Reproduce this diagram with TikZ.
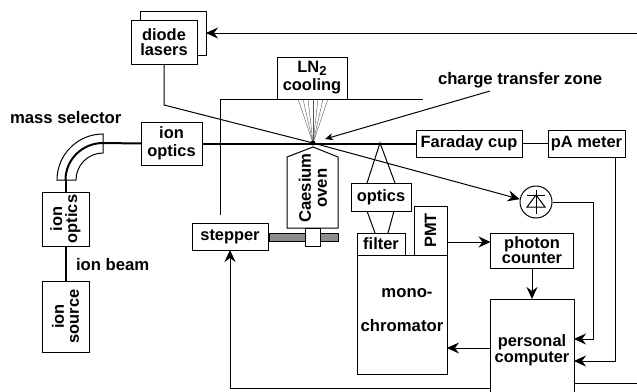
\documentclass[tikz,border=0pt]{standalone}
\usepackage{xcolor}
\usepackage{fontspec}
\setmainfont{Liberation Sans}
\usepackage{tikz}
\usetikzlibrary{arrows.meta}
\tikzset{
  box/.style={draw=black,fill=white,line width=1pt,inner sep=0pt,outer sep=0pt,align=center,font=\bfseries\fontsize{16.4}{15}\selectfont},
  lbl/.style={inner sep=0pt,outer sep=0pt,font=\bfseries\fontsize{16.7}{15}\selectfont},
  thin line/.style={line width=1pt},
  beam/.style={line width=2pt},
  feed/.style={line width=1pt,-{Stealth[length=12pt,width=11pt,inset=4pt]}},
}
\begin{document}
\begin{tikzpicture}[x=1pt,y=-1pt]
\path[use as bounding box] (0,0) rectangle (637,391);
\path[fill=white,draw=none] (0,0) rectangle (637,391);
% chamber walls
\draw[thin line] (220.5,215) -- (220.5,99) -- (423,99);
\coordinate (zone) at (313,143);
\foreach \xtop in {298,303,308,313,318,323,328} {
  \draw[line width=0.4pt,black!65] (zone) -- (\xtop,99);
}
% boxes
\node[box,minimum width=66pt,minimum height=44pt] (lasersback) at (173,33) {};
\node[box,minimum width=66pt,minimum height=44pt] (lasers) at (164,42) {diode\\lasers};
\node[box,minimum width=70pt,minimum height=42pt] (cooling) at (312,78) {LN\raisebox{-3pt}{\fontsize{13}{13}\selectfont 2}\\[3pt]cooling};
\node[box,minimum width=61pt,minimum height=43pt] (opticsh) at (171.5,143.5) {ion\\[3pt]optics};
\node[box,minimum width=54pt,minimum height=47pt,rotate=90] (opticsv) at (65.5,219) {ion\\optics};
\node[box,minimum width=71pt,minimum height=47pt,rotate=90] (source) at (65.5,316.5) {ion\\source};
\node[box,minimum width=106pt,minimum height=27pt] (faraday) at (469,143.5) {Faraday cup};
\node[box,minimum width=77pt,minimum height=27pt] (meter) at (586.5,143.5) {pA meter};
\node[box,minimum width=60pt,minimum height=28pt] (optics) at (381,197) {optics};
\node[box,minimum width=76pt,minimum height=27pt] (stepper) at (230,236.5) {stepper};
\node[box,minimum width=48pt,minimum height=22pt] (filter) at (381,244) {filter};
\node[box,minimum width=49pt,minimum height=33pt,rotate=90] (pmt) at (430.5,230.5) {PMT};
\node[box,minimum width=90pt,minimum height=119pt] (mono) at (402,314.5) {};
\node[lbl] (monotop) at (407,293) {mono-};
\node[lbl] (monobottom) at (402,326) {chromator};
\node[box,minimum width=83pt,minimum height=35pt] (counter) at (532,250.5) {photon\\counter};
\node[box,minimum width=84pt,minimum height=102pt] (computer) at (532,350) {personal\\[1pt]computer};
% oven
\path[draw=black,fill=white,thin line] (287,228) -- (287,157) -- (313,147) -- (338,157) -- (338,228) -- cycle;
\node[lbl,rotate=90,align=center] (oven) at (313,188) {Caesium\\[1pt]oven};
% rod
\path[draw=black,fill=black!45,line width=0.6pt] (269,233) rectangle (338,241);
\node[box,minimum width=15pt,minimum height=18pt] (block) at (312.5,237) {};
% mass selector
\coordinate (bendin) at (103,143);
\coordinate (bendout) at (65.5,180);
\draw[thin line] (103,134) arc[start angle=270,end angle=180,radius=46] -- ++(19,0) arc[start angle=180,end angle=270,radius=27] -- cycle;
\draw[beam] (bendout) arc[start angle=180,end angle=270,x radius=37.5,y radius=37];
% ion beam
\draw[beam] (bendin) -- (opticsh.west);
\draw[beam] (opticsh.east) -- (faraday.west);
\draw[beam] (bendout) -- (opticsv.east);
\draw[beam] (opticsv.west) -- (source.east);
\fill (zone) circle (2.5pt);
\draw[thin line] (faraday.east) -- (meter.west);
% laser beam and detector
\node[draw=black,fill=white,circle,thin line,minimum size=32pt,inner sep=0pt] (diode) at (536,202) {};
\draw[thin line] (536,190) -- (536,214);
\draw[thin line] (527,207) -- (545,207) -- (536,195) -- cycle;
\draw[thin line] (527,195) -- (545,195);
\draw[thin line] (lasers.south) -- (164,105) -- (zone);
\draw[feed] (zone) -- (diode.170);
% optics cone
\coordinate (cone) at (380,143);
\draw[thin line] (367,183) -- (cone) -- (395,183);
\draw[thin line] (367,211) -- (375,233);
\draw[thin line] (394,211) -- (388,233);
% signals
\coordinate (laserin) at (637,33);
\coordinate (scanout) at (637,383);
\draw[feed] (laserin) -- (lasersback.east);
\draw[thin line,-{Stealth[length=8pt,width=7pt,inset=2.5pt]}] (490,91) -- (325,139);
\draw[feed] (pmt.south |- 0,242) -- (counter.west |- 0,242);
\draw[feed] (counter.south) -- (computer.north);
\draw[feed] (computer.west |- 0,348) -- (mono.east |- 0,348);
\draw[feed] (diode.east) -- (593,202) -- (593,339) -- (computer.east |- 0,339);
\draw[feed] (meter.south -| 615,0) -- (615,361) -- (computer.east |- 0,361);
\draw[feed] (computer.west |- 0,388) -- (stepper.south |- 0,388) -- (stepper.south);
\draw[thin line] (computer.east |- scanout) -- (scanout);
% labels
\node[lbl,anchor=west] (selector) at (10,118) {mass selector};
\node[lbl,anchor=west] (beamlabel) at (76,265) {ion beam};
\node[lbl,anchor=west] (transfer) at (438,80) {charge transfer zone};
\end{tikzpicture}
\end{document}
